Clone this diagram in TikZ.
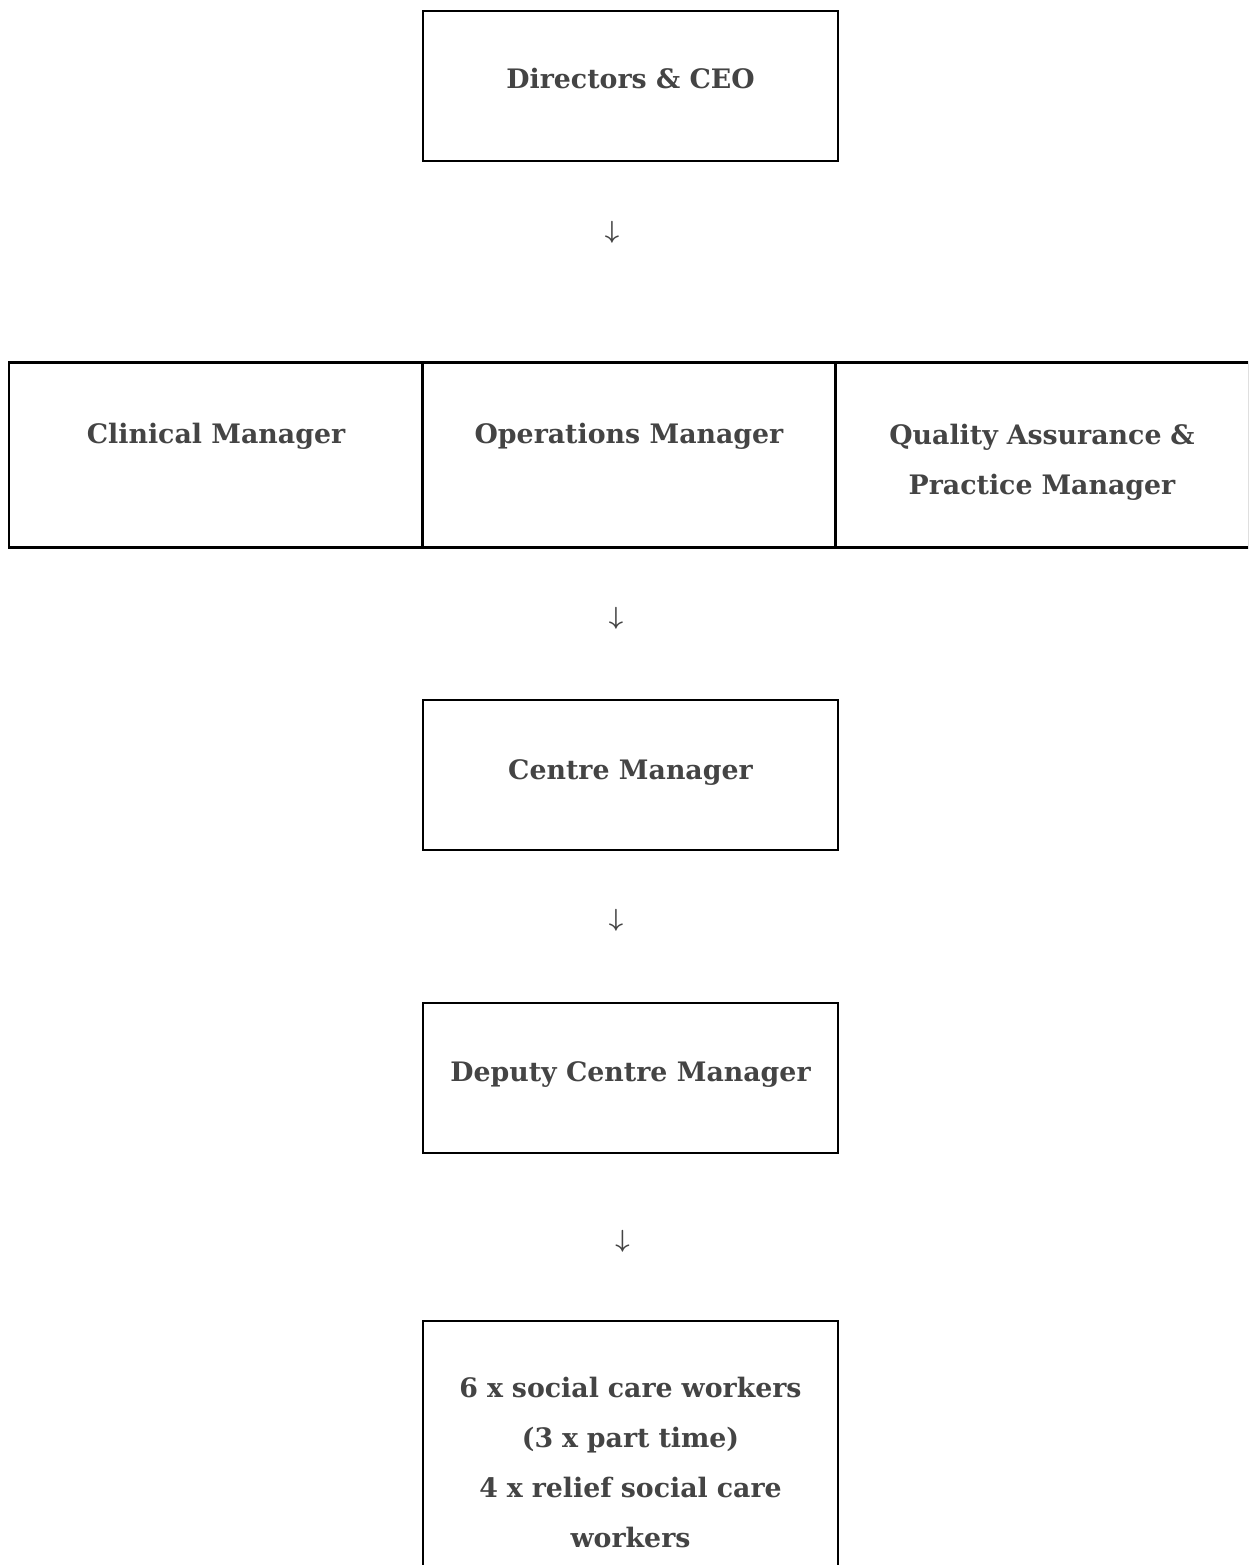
\documentclass[tikz,border=0pt]{standalone}
\usepackage{fontspec}
\setmainfont{DejaVu Serif}
\definecolor{txt}{HTML}{444444}
\tikzset{
  box/.style={draw=black, line width=2.8pt, inner sep=0pt, minimum width=415pt, minimum height=150pt},
  cell/.style={draw=black, line width=2.8pt, inner sep=0pt, minimum width=414pt, minimum height=184.5pt},
  lbl/.style={text=txt, font=\fontsize{26.8}{50}\selectfont\bfseries, inner sep=0pt, anchor=base, align=center},
  mlbl/.style={lbl, text width=400pt},
  arr/.style={text=txt, font=\fontsize{30}{32}\selectfont\boldmath, inner sep=0pt}
}
\begin{document}
\begin{tikzpicture}[x=1pt,y=-1pt]
\useasboundingbox (0,0) rectangle (1248,1565);
\clip (0,0) rectangle (1248,1565);
% boxes
\node[box] (dir) at (630.5,86) {};
\node[cell] (clin) at (216,455) {};
\node[cell] (oper) at (629,455) {};
\node[cell] (qual) at (1042,455) {};
\node[box] (centre) at (630.5,775) {};
\node[box] (deputy) at (630.5,1078) {};
\node[box, minimum height=300pt] (staff) at (630.5,1471) {};
% labels
\node[lbl] (dirt) at (630.5,89) {Directors \& CEO};
\node[lbl] (clint) at (216,443) {Clinical Manager};
\node[lbl] (opert) at (629,443) {Operations Manager};
\node[mlbl] (qualt) at (1042,444) {Quality Assurance \&\\Practice Manager};
\node[lbl] (centret) at (630.5,779) {Centre Manager};
\node[lbl] (deputyt) at (630.5,1081) {Deputy Centre Manager};
\node[mlbl] (stafft) at (630.5,1397) {6 x social care workers\\(3 x part time)\\4 x relief social care\\workers};
% arrows
\node[arr] (a1) at (612,232) {$\downarrow$};
\node[arr] (a2) at (616,618.5) {$\downarrow$};
\node[arr] (a3) at (616,920) {$\downarrow$};
\node[arr] (a4) at (622.5,1241) {$\downarrow$};
\end{tikzpicture}
\end{document}
